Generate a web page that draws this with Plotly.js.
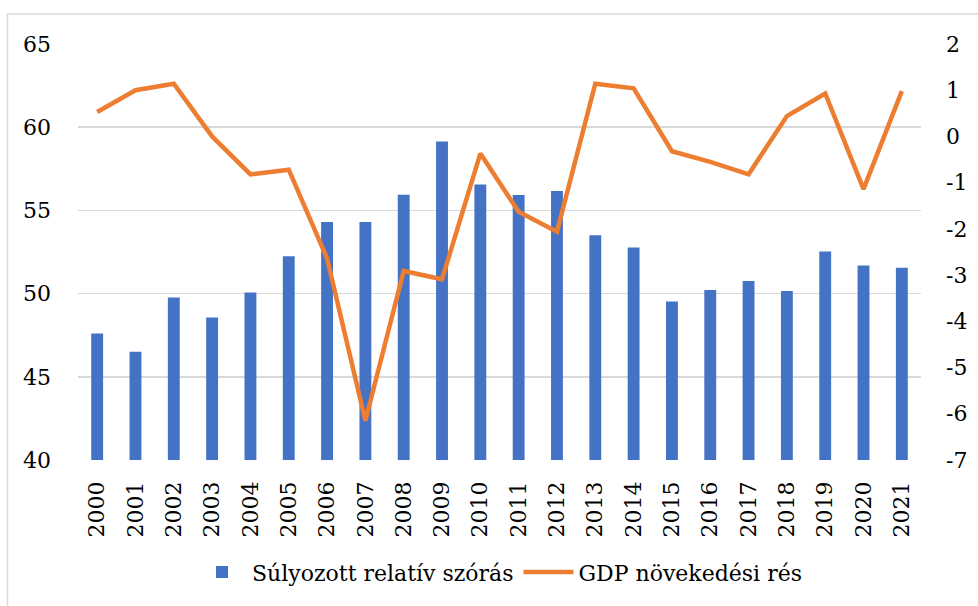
<!DOCTYPE html>
<html><head><meta charset="utf-8">
<script src="https://cdn.plot.ly/plotly-3.0.1.min.js"></script>
<style>html,body{margin:0;padding:0;background:#fff}#chart{width:978px;height:606px}</style>
</head><body><div id="chart"></div>
<script>
const years = ["2000","2001","2002","2003","2004","2005","2006","2007","2008","2009","2010","2011","2012","2013","2014","2015","2016","2017","2018","2019","2020","2021"];
const szoras = [47.6,46.5,49.77,48.57,50.07,52.25,54.3,54.3,55.94,59.14,56.56,55.92,56.16,53.51,52.77,49.53,50.21,50.75,50.15,52.53,51.69,51.55];
const gdpRes = [0.53,1.0,1.14,0.0,-0.82,-0.72,-2.64,-6.15,-2.91,-3.09,-0.37,-1.63,-2.06,1.14,1.04,-0.32,-0.55,-0.82,0.44,0.93,-1.14,0.98];
const leftTicks = [40,45,50,55,60,65];
const rightTicks = [-7,-6,-5,-4,-3,-2,-1,0,1,2];

const fontFam = "DejaVu Serif";
const data = [
  {type:"bar", name:"Súlyozott relatív szórás", x:years, y:szoras, marker:{color:"#4472C4"}, yaxis:"y"},
  {type:"scatter", mode:"lines", name:"GDP növekedési rés", x:years, y:gdpRes, line:{color:"#ED7D31", width:4.5}, yaxis:"y2"}
];
const layout = {
  width:978, height:606,
  margin:{l:78, r:57, t:44, b:146},
  paper_bgcolor:"#fff", plot_bgcolor:"#fff",
  font:{family:fontFam, size:22, color:"#000"},
  bargap:0.69,
  showlegend:true,
  legend:{orientation:"h", x:0.5, xanchor:"center", y:-0.27, yanchor:"middle", font:{family:fontFam, size:22}, itemwidth:50, tracegroupgap:0},
  xaxis:{type:"category", tickangle:-90, showgrid:false, zeroline:false, showline:false, ticks:"", tickfont:{family:fontFam, size:22}, ticklabelstandoff:16, fixedrange:true},
  yaxis:{range:[40,65], tickvals:leftTicks, showgrid:true, gridcolor:"#d9d9d9", gridwidth:1.5, zeroline:false, showline:false, ticks:"", tickfont:{family:fontFam, size:22}, ticklabelstandoff:26, automargin:false},
  yaxis2:{overlaying:"y", side:"right", range:[-7,2], tickvals:rightTicks, ticktext:rightTicks.map(String), showgrid:false, zeroline:false, showline:false, ticks:"", tickfont:{family:fontFam, size:22}, ticklabelstandoff:24, automargin:false},
  shapes:[{type:"rect", xref:"paper", yref:"paper", x0:-0.0836, x1:1.2, y0:-0.6, y1:1.072, line:{color:"#d9d9d9", width:1.5}, fillcolor:"rgba(0,0,0,0)", layer:"below"}]
};
Plotly.newPlot("chart", data, layout, {displayModeBar:false, staticPlot:true});
</script></body></html>
